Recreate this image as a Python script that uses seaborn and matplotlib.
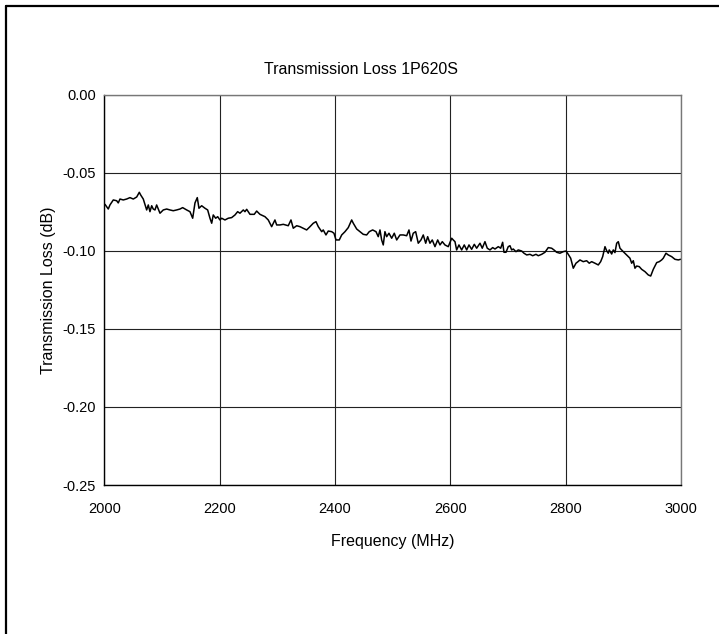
import matplotlib
matplotlib.use("Agg")
import matplotlib.pyplot as plt
from matplotlib.lines import Line2D
import numpy as np
import pandas as pd
import seaborn as sns

freq_mhz = [
    2000.9, 2006.6, 2009.5, 2015.3, 2021.2, 2023.9, 2026.9, 2032.6, 2038.5, 2044.2,
    2050.0, 2055.9, 2060.4, 2062.8, 2067.3, 2073.2, 2076.0, 2078.9, 2081.9, 2084.6,
    2087.6, 2090.5, 2096.3, 2102.0, 2107.9, 2113.6, 2119.3, 2125.2, 2131.0, 2135.6,
    2142.6, 2148.3, 2153.0, 2157.0, 2161.0, 2163.9, 2168.6, 2174.3, 2179.0, 2183.0,
    2186.0, 2188.7, 2192.9, 2196.4, 2200.3, 2203.3, 2209.0, 2214.7, 2220.6, 2226.4,
    2231.0, 2235.0, 2240.8, 2243.7, 2246.7, 2252.4, 2259.8, 2264.0, 2269.7, 2278.4,
    2284.1, 2290.0, 2295.7, 2298.7, 2304.4, 2310.2, 2318.8, 2323.5, 2327.5, 2333.4,
    2339.1, 2344.8, 2350.7, 2356.5, 2362.2, 2366.9, 2370.9, 2376.8, 2379.5, 2384.2,
    2388.2, 2394.1, 2398.1, 2401.6, 2407.3, 2411.5, 2417.2, 2422.9, 2428.8, 2431.6,
    2437.5, 2443.2, 2448.9, 2454.8, 2459.3, 2465.2, 2471.0, 2474.9, 2477.9, 2480.8,
    2483.6, 2486.5, 2489.5, 2493.5, 2498.2, 2502.7, 2506.9, 2512.6, 2518.3, 2524.2,
    2528.2, 2531.7, 2535.6, 2539.8, 2544.3, 2549.0, 2553.0, 2557.2, 2560.6, 2564.6,
    2568.6, 2573.3, 2578.0, 2582.0, 2586.0, 2590.6, 2596.4, 2602.3, 2605.0, 2608.0,
    2610.9, 2614.9, 2619.6, 2624.1, 2628.3, 2632.3, 2636.9, 2641.5, 2645.6, 2651.4,
    2655.3, 2660.0, 2664.0, 2668.7, 2673.4, 2677.4, 2683.1, 2687.3, 2690.7, 2693.0,
    2696.5, 2700.4, 2703.4, 2706.3, 2709.1, 2713.8, 2717.8, 2723.7, 2727.7, 2732.4,
    2738.1, 2742.8, 2748.5, 2752.5, 2758.4, 2764.1, 2767.0, 2769.8, 2775.7, 2779.7,
    2784.4, 2790.1, 2795.8, 2800.5, 2804.5, 2808.7, 2813.2, 2817.9, 2821.4, 2824.8,
    2830.5, 2836.4, 2840.9, 2845.1, 2850.8, 2856.6, 2860.7, 2864.2, 2868.2, 2871.1,
    2873.9, 2875.6, 2879.8, 2882.6, 2885.5, 2888.5, 2891.3, 2894.2, 2899.9, 2905.8,
    2911.5, 2914.5, 2917.3, 2920.2, 2923.2, 2927.7, 2931.8, 2937.6, 2943.3, 2947.5,
    2952.0, 2957.9, 2962.4, 2966.5, 2969.3, 2974.0, 2978.0, 2983.9, 2989.6, 2995.4,
    2999.2,
]

loss_db = [
    -0.0703, -0.0733, -0.0707, -0.0675, -0.0680, -0.0694, -0.0669, -0.0675, -0.0669, -0.0660,
    -0.0669, -0.0656, -0.0626, -0.0643, -0.0669, -0.0739, -0.0707, -0.0750, -0.0712, -0.0733,
    -0.0739, -0.0707, -0.0760, -0.0739, -0.0733, -0.0739, -0.0744, -0.0739, -0.0733, -0.0724,
    -0.0739, -0.0750, -0.0792, -0.0694, -0.0660, -0.0728, -0.0712, -0.0728, -0.0739, -0.0792,
    -0.0824, -0.0771, -0.0792, -0.0782, -0.0803, -0.0792, -0.0803, -0.0792, -0.0788, -0.0771,
    -0.0750, -0.0760, -0.0739, -0.0750, -0.0735, -0.0767, -0.0767, -0.0746, -0.0767, -0.0782,
    -0.0803, -0.0846, -0.0803, -0.0835, -0.0835, -0.0831, -0.0840, -0.0803, -0.0856, -0.0840,
    -0.0846, -0.0856, -0.0867, -0.0846, -0.0824, -0.0814, -0.0846, -0.0878, -0.0867, -0.0899,
    -0.0874, -0.0878, -0.0888, -0.0931, -0.0931, -0.0899, -0.0878, -0.0852, -0.0803, -0.0824,
    -0.0861, -0.0878, -0.0895, -0.0899, -0.0878, -0.0867, -0.0878, -0.0910, -0.0867, -0.0931,
    -0.0963, -0.0878, -0.0910, -0.0888, -0.0920, -0.0888, -0.0931, -0.0899, -0.0899, -0.0904,
    -0.0867, -0.0938, -0.0888, -0.0878, -0.0952, -0.0931, -0.0899, -0.0952, -0.0910, -0.0952,
    -0.0931, -0.0974, -0.0931, -0.0963, -0.0942, -0.0963, -0.0974, -0.0920, -0.0931, -0.0942,
    -0.0995, -0.0963, -0.0995, -0.0963, -0.0995, -0.0963, -0.0991, -0.0959, -0.0984, -0.0952,
    -0.0984, -0.0942, -0.0984, -0.0995, -0.0980, -0.0989, -0.0974, -0.0984, -0.0946, -0.1010,
    -0.1010, -0.0974, -0.0968, -0.0995, -0.0989, -0.1006, -0.0995, -0.1002, -0.1016, -0.1027,
    -0.1023, -0.1032, -0.1023, -0.1032, -0.1023, -0.1010, -0.0995, -0.0980, -0.0984, -0.0995,
    -0.1010, -0.1016, -0.1006, -0.1002, -0.1023, -0.1048, -0.1112, -0.1080, -0.1070, -0.1059,
    -0.1070, -0.1064, -0.1080, -0.1070, -0.1080, -0.1091, -0.1070, -0.1038, -0.0974, -0.1000,
    -0.1016, -0.0995, -0.1021, -0.0995, -0.1012, -0.0952, -0.0942, -0.0984, -0.1006, -0.1027,
    -0.1048, -0.1080, -0.1064, -0.1112, -0.1098, -0.1102, -0.1119, -0.1134, -0.1155, -0.1162,
    -0.1119, -0.1076, -0.1070, -0.1059, -0.1048, -0.1016, -0.1027, -0.1038, -0.1055, -0.1059,
    -0.1055,
]

x_ticks = [2000, 2200, 2400, 2600, 2800, 3000]
x_tick_labels = ["2000", "2200", "2400", "2600", "2800", "3000"]
y_ticks = [0.00, -0.05, -0.10, -0.15, -0.20, -0.25]
y_tick_labels = ["0.00", "-0.05", "-0.10", "-0.15", "-0.20", "-0.25"]

title_text = "Transmission Loss 1P620S"
x_label = "Frequency (MHz)"
y_label = "Transmission Loss (dB)"

sns.set_theme(style="white")
plt.rcParams["font.family"] = ["Liberation Sans", "DejaVu Sans"]

df = pd.DataFrame({"freq": freq_mhz, "loss": loss_db})

fig = plt.figure(figsize=(7.19, 6.34), dpi=100)
ax = fig.add_axes([0.1453, 0.2350, 0.8018, 0.6159])

sns.lineplot(data=df, x="freq", y="loss", ax=ax, color="black", linewidth=1.1,
             estimator=None, sort=False)

ax.set_xlim(2000, 3000)
ax.set_ylim(-0.25, 0.0)
ax.set_xticks(x_ticks)
ax.set_xticklabels(x_tick_labels)
ax.set_yticks(y_ticks)
ax.set_yticklabels(y_tick_labels)
ax.tick_params(axis="both", direction="out", length=4, width=1, color="black",
               labelsize=10.5, labelcolor="black", pad=2)
ax.tick_params(axis="x", pad=8)
ax.grid(True, color="#222222", linewidth=0.8)
ax.set_axisbelow(True)

for side in ["left", "bottom"]:
    ax.spines[side].set_color("black")
    ax.spines[side].set_linewidth(1.0)
for side in ["top", "right"]:
    ax.spines[side].set_color("#777777")
    ax.spines[side].set_linewidth(1.0)

ax.set_xlabel(x_label, fontsize=11.5, color="black", labelpad=13)
ax.set_ylabel(y_label, fontsize=11.5, color="black", labelpad=5)

fig.text(361 / 719, 1 - 69 / 634, title_text, ha="center", va="center",
         fontsize=11.5, color="black")

# outer frame lines (top and left)
fig.add_artist(Line2D([6 / 719, 1.0], [1 - 6 / 634, 1 - 6 / 634],
                      transform=fig.transFigure, color="black", linewidth=1.6))
fig.add_artist(Line2D([6 / 719, 6 / 719], [0.0, 1 - 6 / 634],
                      transform=fig.transFigure, color="black", linewidth=1.6))

fig.savefig("out.png", dpi=100, facecolor="white")
